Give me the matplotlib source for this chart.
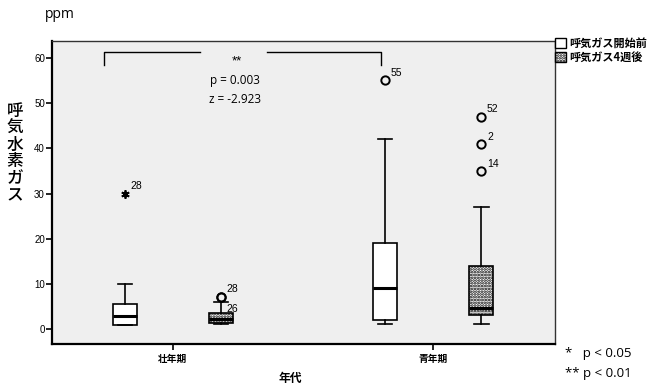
import matplotlib
matplotlib.use('Agg')
import matplotlib.pyplot as plt
from matplotlib.patches import Patch

plt.rcParams['font.family'] = ['Liberation Sans', 'Noto Sans CJK JP', 'DejaVu Sans']
plt.rcParams['hatch.linewidth'] = 1.3

# --- データ ---
groups = ['壮年期', '青年期']
series = ['呼気ガス開始前', '呼気ガス4週後']

# [壮年期, 青年期]
before_low = [1.0, 1.1]
before_q1 = [1.0, 2.0]
before_med = [3.0, 9.2]
before_q3 = [5.5, 19.0]
before_high = [10.0, 42.0]

after_low = [1.2, 1.1]
after_q1 = [1.4, 3.1]
after_med = [2.2, 4.6]
after_q3 = [3.6, 14.0]
after_high = [6.0, 27.0]

# 外れ値 (値, ID)
out_before = [[(30.0, '28')], [(55.0, '55')]]
out_after = [[(7.2, '28'), (7.2, '26')], [(47.0, '52'), (41.0, '2'), (35.0, '14')]]

p_text = 'p = 0.003'
z_text = 'z = -2.923'

cjk = ['Noto Sans CJK JP', 'DejaVu Sans']
txt = ['Open Sans', 'Noto Sans CJK JP']


def make_stats(low, q1, med, q3, high):
    return [dict(whislo=low[i], q1=q1[i], med=med[i], q3=q3[i], whishi=high[i], fliers=[])
            for i in range(len(low))]


fig = plt.figure(figsize=(6.48, 3.88), dpi=100)
ax = fig.add_axes([0.080, 0.113, 0.777, 0.781])
ax.set_facecolor('#efefef')

off = 0.185
w = 0.092
pos_b = [i - off for i in range(len(groups))]
pos_a = [i + off for i in range(len(groups))]

common = dict(widths=w, patch_artist=True, showfliers=False,
              whiskerprops=dict(color='black', lw=1.2),
              capprops=dict(color='black', lw=1.2),
              medianprops=dict(color='black', lw=2.2))

bb = ax.bxp(make_stats(before_low, before_q1, before_med, before_q3, before_high),
            positions=pos_b, boxprops=dict(facecolor='white', edgecolor='black', lw=1.2), **common)
ba = ax.bxp(make_stats(after_low, after_q1, after_med, after_q3, after_high),
            positions=pos_a, boxprops=dict(facecolor='white', edgecolor='black', lw=1.2, hatch='......'),
            **common)
for c in bb['caps'] + ba['caps']:
    x = c.get_xdata()
    m = x.mean()
    c.set_xdata([m - w * 0.3, m + w * 0.3])

# 外れ値
for i, pts in enumerate(out_before):
    for v, lab in pts:
        if lab == '28':
            ax.plot(pos_b[i], v, marker=(6, 2, 0), ms=6, mec='black', mew=1.3, ls='none')
        else:
            ax.plot(pos_b[i], v, marker='o', ms=6, mfc='none', mec='black', mew=1.4, ls='none')
        ax.annotate(lab, (pos_b[i], v), xytext=(4, 3), textcoords='offset points', fontsize=7.5)
for i, pts in enumerate(out_after):
    for j, (v, lab) in enumerate(pts):
        ax.plot(pos_a[i], v, marker='o', ms=6, mfc='none', mec='black', mew=1.4, ls='none')
        dy = -11 if (i == 0 and j == 1) else 3
        ax.annotate(lab, (pos_a[i], v), xytext=(4, dy), textcoords='offset points', fontsize=7.5)

# 有意差ブラケット
ax.plot([-0.265, -0.265, 0.105], [58.4, 61.3, 61.3], color='black', lw=1)
ax.plot([0.36, 0.80, 0.80], [61.3, 61.3, 58.4], color='black', lw=1)
ax.text(0.245, 59.3, '**', ha='center', va='center', fontsize=9.5)
ax.text(0.24, 55.0, p_text, ha='center', va='center', fontsize=8.5, family=txt)
ax.text(0.24, 50.8, z_text, ha='center', va='center', fontsize=8.5, family=txt)

ax.set_xlim(-0.465, 1.469)
ax.set_ylim(-3.3, 63.7)
ax.set_yticks([0, 10, 20, 30, 40, 50, 60])
ax.set_xticks(range(len(groups)))
ax.set_xticklabels(groups, fontsize=7, fontweight='bold', family=cjk)
ax.tick_params(axis='y', labelsize=7, length=4, width=1.2, pad=1)
ax.tick_params(axis='x', length=4, width=1.2, pad=3)
for s in ['left', 'bottom']:
    ax.spines[s].set_linewidth(1.6)
for s in ['top', 'right']:
    ax.spines[s].set_linewidth(1.0)
    ax.spines[s].set_color('#333333')

# ラベル
fig.text(45 / 648, 1 - 15 / 388, 'ppm', fontsize=10, va='center', ha='left', family=txt)
fig.text(15 / 648, 1 - 153 / 388, '呼\n気\n水\n素\nガ\nス', fontsize=12, ha='center', va='center',
         linespacing=0.92, family=cjk, fontweight='medium')
fig.text(290 / 648, 1 - 378 / 388, '年代', fontsize=8.5, fontweight='bold', ha='center', va='center',
         family=cjk)

handles = [Patch(facecolor='white', edgecolor='black', label=series[0]),
           Patch(facecolor='white', edgecolor='black', hatch='......', label=series[1])]
fig.legend(handles=handles, loc='upper left', bbox_to_anchor=(555 / 648, 1 - 37 / 388),
           frameon=False, handlelength=1.0, handleheight=1.0, handletextpad=0.3,
           labelspacing=0.1, borderaxespad=0, borderpad=0,
           prop=dict(weight='bold', size=8, family=cjk))

fig.text(565 / 648, 1 - 353 / 388, '*   p < 0.05', fontsize=9.5, va='center', ha='left', family=txt)
fig.text(565 / 648, 1 - 373 / 388, '** p < 0.01', fontsize=9.5, va='center', ha='left', family=txt)

plt.savefig('out.png', dpi=100)
